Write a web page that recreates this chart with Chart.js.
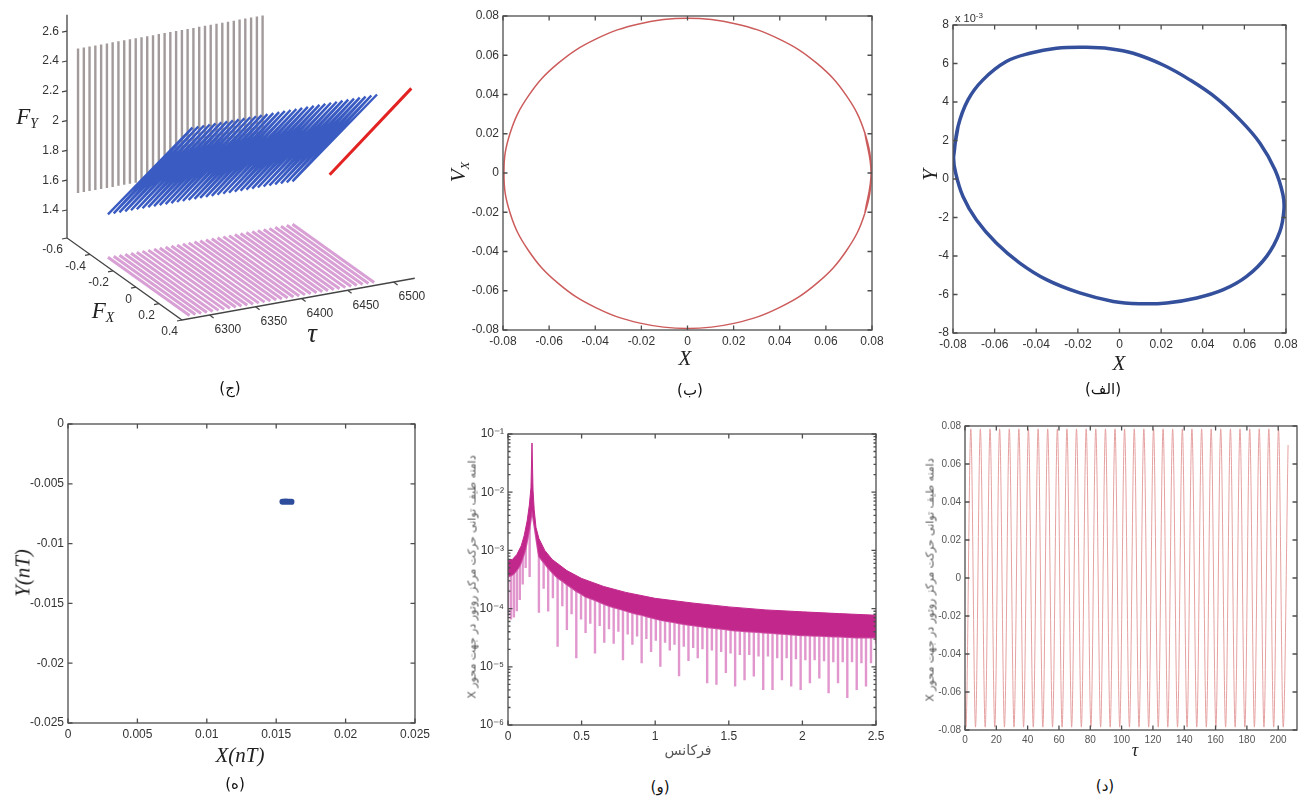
<!DOCTYPE html>
<html lang="fa">
<head>
<meta charset="utf-8">
<title>Rotor</title>
<script src="https://cdn.jsdelivr.net/npm/chart.js@4.4.1/dist/chart.umd.min.js"></script>
<style>
    html, body { margin: 0; padding: 0; background: #fff; }
    body { width: 1309px; height: 802px; position: relative; overflow: hidden; font-family: "Liberation Sans", Arial, sans-serif; }
    canvas { position: absolute; }
    .txt { position: absolute; white-space: nowrap; color: #222; transform: translate(-50%, -50%); line-height: 1; }
    .vert { transform: translate(-50%, -50%) rotate(-90deg); }
    .mat { font-family: "Liberation Serif", "DejaVu Serif", serif; font-style: italic; }
    .mat sub { font-size: 60%; vertical-align: -0.3em; }
    .fa { font-family: "DejaVu Sans", sans-serif; color: #555; }
    .cap { font-family: "DejaVu Sans", sans-serif; font-size: 15px; color: #111; }
</style>
</head>
<body>

<canvas id="chart_3d" width="440" height="400" style="left:0px; top:0px"></canvas>
<canvas id="chart_fase" width="450" height="350" style="left:440px; top:0px"></canvas>
<canvas id="chart_orbita" width="409" height="355" style="left:900px; top:0px"></canvas>
<canvas id="chart_poincare" width="425" height="340" style="left:10px; top:405px"></canvas>
<canvas id="chart_espectro" width="440" height="330" style="left:455px; top:415px"></canvas>
<canvas id="chart_tempo" width="394" height="340" style="left:915px; top:410px"></canvas>

<!-- titulos dos eixos -->
<div class="txt mat" style="left:27px; top:118px; font-size:23px">F<sub>Y</sub></div>
<div class="txt mat" style="left:103px; top:312px; font-size:23px">F<sub>X</sub></div>
<div class="txt mat" style="left:312px; top:333px; font-size:27px">τ</div>

<div class="txt mat" style="left:685px; top:358px; font-size:21px">X</div>
<div class="txt mat vert" style="left:460px; top:172px; font-size:21px">V<sub>X</sub></div>

<div class="txt mat" style="left:1119px; top:363px; font-size:21px">X</div>
<div class="txt mat vert" style="left:930px; top:175px; font-size:21px">Y</div>
<div class="txt" style="left:969px; top:18px; font-size:11px; color:#333">x 10<sup style="font-size:8px">-3</sup></div>

<div class="txt mat" style="left:240px; top:755px; font-size:21px">X(nT)</div>
<div class="txt mat vert" style="left:23px; top:573px; font-size:21px">Y(nT)</div>

<div class="txt fa" style="left:688px; top:750px; font-size:14px">فرکانس</div>
<div class="txt fa vert" dir="rtl" style="left:472px; top:577px; font-size:11px">دامنه طیف توانی حرکت مرکز روتور در جهت محور X</div>

<div class="txt mat" style="left:1135px; top:750px; font-size:18px">τ</div>
<div class="txt fa vert" dir="rtl" style="left:930px; top:580px; font-size:11px">دامنه طیف توانی حرکت مرکز روتور در جهت محور X</div>

<!-- legendas dos paineis -->
<div class="txt cap" style="left:230px; top:388px">(ج)</div>
<div class="txt cap" style="left:690px; top:390px">(ب)</div>
<div class="txt cap" style="left:1103px; top:389px">(الف)</div>
<div class="txt cap" style="left:235px; top:784px">(ه)</div>
<div class="txt cap" style="left:660px; top:787px">(و)</div>
<div class="txt cap" style="left:1105px; top:786px">(د)</div>

<script>
// ---------- (الف) orbita do centro do rotor (Y em unidades de 1e-3)
const orbita_x = [-0.0797, -0.0776, -0.0728, -0.0656, -0.0544, -0.0431, -0.0303, -0.0159, -0.0047, 0.0066, 0.0210, 0.0338, 0.0467, 0.0579, 0.0675, 0.0747, 0.0785, 0.0790, 0.0770, 0.0707, 0.0611, 0.0499, 0.0371, 0.0227, 0.0098, -0.0030, -0.0191, -0.0351, -0.0479, -0.0592, -0.0688, -0.0752, -0.0787, -0.0797, -0.0776];
const orbita_y = [1.17, 2.72, 4.11, 5.15, 6.10, 6.53, 6.79, 6.84, 6.77, 6.53, 5.92, 5.15, 4.19, 3.07, 1.86, 0.48, -0.80, -1.60, -2.75, -4.02, -5.06, -5.75, -6.18, -6.44, -6.48, -6.36, -5.92, -5.23, -4.37, -3.33, -2.12, -0.91, 0.30, 1.17, 2.72];
const rotulos_orbita_x = [-0.08, -0.06, -0.04, -0.02, 0, 0.02, 0.04, 0.06, 0.08];
const rotulos_orbita_y = [-8, -6, -4, -2, 0, 2, 4, 6, 8];

// ---------- (ب) plano de fase X - Vx
const fase_x = [0.0769, 0.0796, 0.0769, 0.0689, 0.0563, 0.0398, 0.0206, 0, -0.0206, -0.0398, -0.0563, -0.0689, -0.0769, -0.0796, -0.0769, -0.0689, -0.0563, -0.0398, -0.0206, 0, 0.0206, 0.0398, 0.0563, 0.0689, 0.0769, 0.0796, 0.0769];
const fase_v = [-0.0205, 0, 0.0204, 0.0394, 0.0557, 0.0682, 0.0761, 0.0788, 0.0761, 0.0682, 0.0557, 0.0394, 0.0204, 0, -0.0205, -0.0396, -0.0560, -0.0686, -0.0765, -0.0792, -0.0765, -0.0686, -0.0560, -0.0396, -0.0205, 0, 0.0204];
const rotulos_fase = [-0.08, -0.06, -0.04, -0.02, 0, 0.02, 0.04, 0.06, 0.08];

// ---------- (ج) forcas Fx, Fy ao longo de tau
const tau_ciclos = [6282.0, 6288.3, 6294.5, 6300.8, 6307.1, 6313.4, 6319.6, 6325.9, 6332.2, 6338.4, 6344.7, 6351.0, 6357.2, 6363.5, 6369.8, 6376.1, 6382.3, 6388.6, 6394.9, 6401.1, 6407.4, 6413.7, 6420.0, 6426.2, 6432.5, 6438.8, 6445.0, 6451.3, 6457.6, 6463.8, 6470.1, 6476.4, 6482.6];
const meio_ciclo = 3.13;
const faixa_fx = [-0.34, 0.37];
const faixa_fy = [1.5, 2.47];
const rotulos_tau = [6300, 6350, 6400, 6450, 6500];
const rotulos_fx = [-0.6, -0.4, -0.2, 0, 0.2, 0.4];
const rotulos_fy = [1.4, 1.6, 1.8, 2, 2.2, 2.4, 2.6];

// ---------- (ه) mapa de Poincare
const poincare_x = [0.01545, 0.0157, 0.0159, 0.0161];
const poincare_y = [-0.0065, -0.00649, -0.0065, -0.00651];
const rotulos_poincare_x = [0, 0.005, 0.01, 0.015, 0.02, 0.025];
const rotulos_poincare_y = [-0.025, -0.02, -0.015, -0.01, -0.005, 0];

// ---------- (و) espectro de potencia
const freq_env = [0, 0.03, 0.06, 0.09, 0.11, 0.13, 0.145, 0.156, 0.163, 0.17, 0.178, 0.19, 0.21, 0.25, 0.3, 0.4, 0.5, 0.65, 0.8, 1.0, 1.25, 1.5, 1.75, 2.0, 2.25, 2.5];
const env_sup = [6.8e-4, 7e-4, 8.5e-4, 1.2e-3, 1.8e-3, 3.2e-3, 6e-3, 1.2e-2, 7e-2, 1.1e-2, 5e-3, 2.5e-3, 1.6e-3, 1.0e-3, 7e-4, 4.5e-4, 3.3e-4, 2.4e-4, 1.9e-4, 1.5e-4, 1.25e-4, 1.07e-4, 9.5e-5, 8.8e-5, 8.2e-5, 7.7e-5];
const espiga_x = [0, 0.02, 0.04, 0.06, 0.08, 0.1, 0.12, 0.147, 0.163,
    0.21, 0.242, 0.273, 0.305, 0.337, 0.369, 0.4, 0.432, 0.464, 0.496, 0.527, 0.559, 0.591, 0.623, 0.654, 0.686, 0.718, 0.75, 0.781, 0.813, 0.845, 0.877, 0.908, 0.94, 0.972, 1.004,
    1.035, 1.067, 1.099, 1.131, 1.162, 1.194, 1.226, 1.258, 1.289, 1.321, 1.353, 1.385, 1.416, 1.448, 1.48, 1.512, 1.543, 1.575, 1.607, 1.639, 1.67, 1.702, 1.734, 1.766,
    1.797, 1.829, 1.861, 1.893, 1.924, 1.956, 1.988, 2.02, 2.051, 2.083, 2.115, 2.147, 2.178, 2.21, 2.242, 2.274, 2.305, 2.337, 2.369, 2.401, 2.432, 2.466, 2.5];
const faixa_inf = [3.6e-4, 3.7e-4, 4.0e-4, 4.6e-4, 5.5e-4, 7.5e-4, 1.1e-3, 2.5e-3, 5e-3,
    8e-4, 6.3e-4, 5e-4, 4.1e-4, 3.4e-4, 3.0e-4, 2.6e-4, 2.3e-4, 2.0e-4, 1.8e-4, 1.6e-4, 1.5e-4, 1.4e-4, 1.3e-4, 1.2e-4, 1.12e-4, 1.05e-4, 1.0e-4, 9.5e-5, 9.0e-5, 8.5e-5, 8.1e-5, 7.8e-5, 7.4e-5, 7.0e-5, 6.7e-5,
    6.4e-5, 6.2e-5, 6.0e-5, 5.8e-5, 5.6e-5, 5.45e-5, 5.3e-5, 5.15e-5, 5.0e-5, 4.9e-5, 4.8e-5, 4.7e-5, 4.6e-5, 4.5e-5, 4.4e-5, 4.3e-5, 4.2e-5, 4.15e-5, 4.1e-5, 4.05e-5, 4.0e-5, 3.95e-5, 3.9e-5, 3.85e-5,
    3.8e-5, 3.75e-5, 3.7e-5, 3.65e-5, 3.6e-5, 3.55e-5, 3.5e-5, 3.47e-5, 3.45e-5, 3.42e-5, 3.4e-5, 3.37e-5, 3.35e-5, 3.32e-5, 3.3e-5, 3.27e-5, 3.25e-5, 3.22e-5, 3.2e-5, 3.2e-5, 3.2e-5, 3.2e-5, 3.2e-5];
const espiga_min = [7.4e-5, 6.5e-5, 7e-5, 9e-5, 1.4e-4, 2.6e-4, 5e-4, 3.5e-4, 5e-3,
    8.5e-5, 2.2e-4, 8.9e-5, 1.5e-4, 2.2e-5, 1.1e-4, 4.3e-5, 8e-5, 1.4e-5, 6.5e-5, 3.8e-5, 5.5e-5, 1.7e-5, 5e-5, 2.6e-5, 4.4e-5, 2.5e-5, 4e-5, 1.3e-5, 3.6e-5, 2.4e-5, 3.3e-5, 1.15e-5, 3e-5, 1.8e-5, 2.8e-5,
    1.0e-5, 2.6e-5, 1.9e-5, 2.4e-5, 6.9e-6, 2.2e-5, 1.26e-5, 2.1e-5, 1.4e-5, 2e-5, 5.2e-6, 1.9e-5, 4.9e-6, 1.8e-5, 7.8e-6, 1.7e-5, 4.6e-6, 1.6e-5, 5.9e-6, 1.6e-5, 6.8e-6, 1.5e-5, 4.0e-6, 1.5e-5,
    4.0e-6, 1.4e-5, 5.9e-6, 1.4e-5, 4.6e-6, 1.35e-5, 4.0e-6, 1.3e-5, 5.2e-6, 1.3e-5, 6.3e-6, 1.25e-5, 3.5e-6, 1.2e-5, 5.2e-6, 1.2e-5, 2.9e-6, 1.2e-5, 4.0e-6, 1.15e-5, 4.6e-6, 1.15e-5, 2.5e-5];
const rotulos_espectro_x = [0, 0.5, 1, 1.5, 2, 2.5];
const rotulos_espectro_y = [1e-6, 1e-5, 1e-4, 1e-3, 1e-2, 1e-1];
const textos_espectro_y = ['10⁻⁶', '10⁻⁵', '10⁻⁴', '10⁻³', '10⁻²', '10⁻¹'];

// ---------- (د) historico no tempo (extremos de cada meia volta)
const tempo_ext = [0, 0.6, 3.7, 6.7, 9.8, 12.9, 16.0, 19.0, 22.1, 25.2, 28.3, 31.3, 34.4, 37.4, 40.5, 43.6, 46.7, 49.7, 52.8, 55.9, 59.0, 62.0, 65.1, 68.1, 71.2, 74.3, 77.4, 80.4, 83.5, 86.6, 89.7, 92.7, 95.8, 98.8, 101.9, 105.0, 108.1, 111.1, 114.2, 117.3, 120.4, 123.4, 126.5, 129.5, 132.6, 135.7, 138.8, 141.8, 144.9, 148.0, 151.1, 154.1, 157.2, 160.2, 163.3, 166.4, 169.5, 172.5, 175.6, 178.7, 181.8, 184.8, 187.9, 190.9, 194.0, 197.1, 200.2, 203.2, 206.3];
const valor_ext = [-0.06, -0.0785, 0.0785, -0.0785, 0.0785, -0.0785, 0.0785, -0.0785, 0.0785, -0.0785, 0.0785, -0.0785, 0.0785, -0.0785, 0.0785, -0.0785, 0.0785, -0.0785, 0.0785, -0.0785, 0.0785, -0.0785, 0.0785, -0.0785, 0.0785, -0.0785, 0.0785, -0.0785, 0.0785, -0.0785, 0.0785, -0.0785, 0.0785, -0.0785, 0.0785, -0.0785, 0.0785, -0.0785, 0.0785, -0.0785, 0.0785, -0.0785, 0.0785, -0.0785, 0.0785, -0.0785, 0.0785, -0.0785, 0.0785, -0.0785, 0.0785, -0.0785, 0.0785, -0.0785, 0.0785, -0.0785, 0.0785, -0.0785, 0.0785, -0.0785, 0.0785, -0.0785, 0.0785, -0.0785, 0.0785, -0.0785, 0.0785, -0.0785, 0.07];
const rotulos_tempo_x = [0, 20, 40, 60, 80, 100, 120, 140, 160, 180, 200];
const rotulos_tempo_y = [-0.08, -0.06, -0.04, -0.02, 0, 0.02, 0.04, 0.06, 0.08];


// caixa do grafico 3D (projecao na tela do painel)
const lim_tau = [6270, 6523];
const lim_fx = [-0.6, 0.4];
const lim_fy = [1.212, 2.71];
const canto = { x: 67, y: 238 };
const dir_tau = { x: 0.92, y: -0.165 };
const dir_fx = { x: 115, y: 82 };
const dir_fy = { x: 0, y: -149 };

function projetar(tau, fx, fy) {
    return {
        x: canto.x + (tau - lim_tau[0]) * dir_tau.x + (fx - lim_fx[0]) * dir_fx.x + (fy - lim_fy[0]) * dir_fy.x,
        y: canto.y + (tau - lim_tau[0]) * dir_tau.y + (fx - lim_fx[0]) * dir_fx.y + (fy - lim_fy[0]) * dir_fy.y
    };
}

function juntar(xs, ys) {
    return xs.map(function (x, i) { return { x: x, y: ys[i] }; });
}


// caixa estilo matlab com marcas para dentro
const pluginCaixa = {
    id: 'caixa',
    afterDatasetsDraw: function (chart, args, opcoes) {
        var ctx = chart.ctx;
        var a = chart.chartArea;
        var L = 4.5;
        ctx.save();
        ctx.strokeStyle = opcoes.cor || '#4d4d4d';
        ctx.lineWidth = 1.3;
        ctx.strokeRect(a.left, a.top, a.right - a.left, a.bottom - a.top);
        ctx.beginPath();
        chart.scales.x.ticks.forEach(function (t) {
            var px = chart.scales.x.getPixelForValue(t.value);
            ctx.moveTo(px, a.bottom); ctx.lineTo(px, a.bottom - L);
            ctx.moveTo(px, a.top); ctx.lineTo(px, a.top + L);
        });
        chart.scales.y.ticks.forEach(function (t) {
            var py = chart.scales.y.getPixelForValue(t.value);
            ctx.moveTo(a.left, py); ctx.lineTo(a.left + L, py);
            ctx.moveTo(a.right, py); ctx.lineTo(a.right - L, py);
        });
        (opcoes.menores_y || []).forEach(function (v) {
            var py = chart.scales.y.getPixelForValue(v);
            ctx.moveTo(a.left, py); ctx.lineTo(a.left + 2.5, py);
            ctx.moveTo(a.right, py); ctx.lineTo(a.right - 2.5, py);
        });
        ctx.stroke();
        ctx.restore();
    }
};

// eixos e rotulos do grafico 3D
const pluginEixos3D = {
    id: 'eixos3d',
    afterDatasetsDraw: function (chart) {
        var ctx = chart.ctx;
        var ex = chart.scales.x, ey = chart.scales.y;
        function tela(p) { return { x: ex.getPixelForValue(p.x), y: ey.getPixelForValue(p.y) }; }
        ctx.save();
        ctx.strokeStyle = '#444';
        ctx.lineWidth = 1.2;
        ctx.fillStyle = '#333';
        ctx.font = '12px "Liberation Sans", Arial, sans-serif';
        ctx.textBaseline = 'middle';
        ctx.textAlign = 'right';
        rotulos_fy.forEach(function (v) {
            var p = tela(projetar(lim_tau[0], lim_fx[0], v));
            ctx.beginPath(); ctx.moveTo(p.x, p.y); ctx.lineTo(p.x - 5, p.y + 1); ctx.stroke();
            ctx.fillText(String(v), p.x - 8, p.y);
        });
        rotulos_fx.forEach(function (v) {
            var p = tela(projetar(lim_tau[0], v, lim_fy[0]));
            ctx.beginPath(); ctx.moveTo(p.x, p.y); ctx.lineTo(p.x - 5, p.y + 1); ctx.stroke();
            ctx.fillText(String(v), p.x - 4, p.y + 12);
        });
        ctx.textAlign = 'left';
        rotulos_tau.forEach(function (v) {
            var p = tela(projetar(v, lim_fx[1], lim_fy[0]));
            ctx.beginPath(); ctx.moveTo(p.x, p.y); ctx.lineTo(p.x + 4, p.y + 3); ctx.stroke();
            ctx.fillText(String(v), p.x + 5, p.y + 15);
        });
        ctx.restore();
    }
};


const fonte_eixos = { family: '"Liberation Sans", Arial, sans-serif', size: 12 };

function eixo(tipo, min, max, rotulos, lado, tamanho, textos) {
    return {
        type: tipo,
        min: min,
        max: max,
        grid: { display: false, drawTicks: false },
        border: { display: false },
        ticks: {
            color: '#333',
            font: fonte_eixos,
            padding: 4,
            autoSkip: false,
            maxRotation: 0,
            callback: function (valor, i) { return textos ? textos[i] : String(valor); }
        },
        afterBuildTicks: function (escala) {
            escala.ticks = rotulos.map(function (v) { return { value: v }; });
        },
        afterFit: function (escala) {
            if (lado == 'x') {
                escala.height = tamanho;
            } else {
                escala.width = tamanho;
            }
        }
    };
}

function opcoesBase(escalas, topo, direita, caixa) {
    return {
        responsive: false,
        animation: false,
        events: [],
        layout: { padding: { top: topo, right: direita, left: 0, bottom: 0 } },
        elements: { point: { radius: 0 } },
        scales: escalas,
        plugins: {
            legend: { display: false },
            tooltip: { enabled: false },
            caixa: caixa || {}
        }
    };
}


function criarGraficos() {

    // (ج) grafico 3D
    var cinza = [], azul = [], rosa = [];
    tau_ciclos.forEach(function (t) {
        var a = projetar(t, lim_fx[0], faixa_fy[0]);
        var b = projetar(t, lim_fx[0], faixa_fy[1]);
        cinza.push(a, b, { x: b.x, y: null });
        var c = projetar(t, faixa_fx[0], lim_fy[0]);
        var d = projetar(t, faixa_fx[1], lim_fy[0]);
        rosa.push(c, d, { x: d.x, y: null });
        azul.push(projetar(t, faixa_fx[0], faixa_fy[0]));
        azul.push(projetar(t + meio_ciclo, faixa_fx[1], faixa_fy[1]));
    });
    var vermelho = [projetar(lim_tau[1], faixa_fx[0], faixa_fy[0]), projetar(lim_tau[1], faixa_fx[1], faixa_fy[1])];
    var eixos = [
        projetar(lim_tau[0], lim_fx[0], lim_fy[1]),
        projetar(lim_tau[0], lim_fx[0], lim_fy[0]),
        projetar(lim_tau[0], lim_fx[1], lim_fy[0]),
        projetar(lim_tau[1], lim_fx[1], lim_fy[0])
    ];

    new Chart(document.getElementById('chart_3d'), {
        type: 'scatter',
        data: {
            datasets: [
                { label: 'Fx-Fy', data: vermelho, showLine: true, borderColor: '#e32222', borderWidth: 3, order: 1 },
                { label: 'Fx-Fy-tau', data: azul, showLine: true, borderColor: '#3a5bc2', borderWidth: 2.4, order: 2 },
                { label: 'Fx-tau', data: rosa, showLine: true, borderColor: '#d8a0d5', borderWidth: 3, order: 3 },
                { label: 'Fy-tau', data: cinza, showLine: true, borderColor: '#a39b9b', borderWidth: 2.4, order: 4 },
                { label: 'eixos', data: eixos, showLine: true, borderColor: '#444', borderWidth: 1.3, order: 5 }
            ]
        },
        options: {
            responsive: false,
            animation: false,
            events: [],
            layout: { padding: 0 },
            elements: { point: { radius: 0 } },
            scales: {
                x: { type: 'linear', min: 0, max: 440, display: false },
                y: { type: 'linear', min: 0, max: 400, reverse: true, display: false }
            },
            plugins: { legend: { display: false }, tooltip: { enabled: false } }
        },
        plugins: [pluginEixos3D]
    });

    // (ب) plano de fase
    new Chart(document.getElementById('chart_fase'), {
        type: 'scatter',
        data: {
            datasets: [{
                label: 'Vx',
                data: juntar(fase_x, fase_v),
                showLine: true,
                tension: 0.4,
                borderColor: '#cc5b5b',
                borderWidth: 1.5
            }]
        },
        options: opcoesBase({
            x: eixo('linear', -0.08, 0.08, rotulos_fase, 'x', 20),
            y: eixo('linear', -0.08, 0.08, rotulos_fase, 'y', 63)
        }, 16, 18),
        plugins: [pluginCaixa]
    });

    // (الف) orbita
    new Chart(document.getElementById('chart_orbita'), {
        type: 'scatter',
        data: {
            datasets: [{
                label: 'Y',
                data: juntar(orbita_x, orbita_y),
                showLine: true,
                tension: 0.4,
                borderColor: '#34509c',
                borderWidth: 3.5
            }]
        },
        options: opcoesBase({
            x: eixo('linear', -0.08, 0.08, rotulos_orbita_x, 'x', 22),
            y: eixo('linear', -8, 8, rotulos_orbita_y, 'y', 53)
        }, 25, 23),
        plugins: [pluginCaixa]
    });

    // (ه) Poincare
    new Chart(document.getElementById('chart_poincare'), {
        type: 'scatter',
        data: {
            datasets: [{
                label: 'Y(nT)',
                data: juntar(poincare_x, poincare_y),
                showLine: true,
                borderColor: '#2d4c9c',
                borderWidth: 6,
                borderCapStyle: 'round'
            }]
        },
        options: opcoesBase({
            x: eixo('linear', 0, 0.025, rotulos_poincare_x, 'x', 22),
            y: eixo('linear', -0.025, 0, rotulos_poincare_y, 'y', 58)
        }, 19, 20),
        plugins: [pluginCaixa]
    });

    // (و) espectro
    var espigas = [];
    espiga_x.forEach(function (x, i) {
        espigas.push({ x: x, y: faixa_inf[i] }, { x: x, y: espiga_min[i] }, { x: x, y: null });
    });
    var menores = [];
    for (var dec = 1e-6; dec < 0.1; dec *= 10) {
        for (var k = 2; k <= 9; k++) menores.push(dec * k);
    }
    new Chart(document.getElementById('chart_espectro'), {
        type: 'scatter',
        data: {
            datasets: [
                { label: 'envoltoria', data: juntar(freq_env, env_sup), showLine: true, borderColor: '#c2288c', backgroundColor: '#c2288c', borderWidth: 1, fill: 1, order: 1 },
                { label: 'faixa', data: juntar(espiga_x, faixa_inf), showLine: true, borderColor: '#cf4fa6', borderWidth: 2, order: 2 },
                { label: 'espigas', data: espigas, showLine: true, borderColor: '#e197cd', borderWidth: 2.4, order: 3 }
            ]
        },
        options: opcoesBase({
            x: eixo('linear', 0, 2.5, rotulos_espectro_x, 'x', 20),
            y: eixo('logarithmic', 1e-6, 1e-1, rotulos_espectro_y, 'y', 53, textos_espectro_y)
        }, 19, 19, { menores_y: menores }),
        plugins: [pluginCaixa]
    });

    // (د) historico no tempo
    var eixo_tx = eixo('linear', 0, 212, rotulos_tempo_x, 'x', 20);
    var eixo_ty = eixo('linear', -0.08, 0.08, rotulos_tempo_y, 'y', 50);
    eixo_tx.ticks.font = { family: fonte_eixos.family, size: 10 };
    eixo_ty.ticks.font = { family: fonte_eixos.family, size: 10 };
    eixo_tx.ticks.color = '#555';
    eixo_ty.ticks.color = '#555';
    new Chart(document.getElementById('chart_tempo'), {
        type: 'scatter',
        data: {
            datasets: [{
                label: 'X',
                data: juntar(tempo_ext, valor_ext),
                showLine: true,
                cubicInterpolationMode: 'monotone',
                borderColor: '#e6a1a1',
                borderWidth: 1
            }]
        },
        options: opcoesBase({ x: eixo_tx, y: eixo_ty }, 16, 12),
        plugins: [pluginCaixa]
    });
}

criarGraficos();
</script>
</body>
</html>
